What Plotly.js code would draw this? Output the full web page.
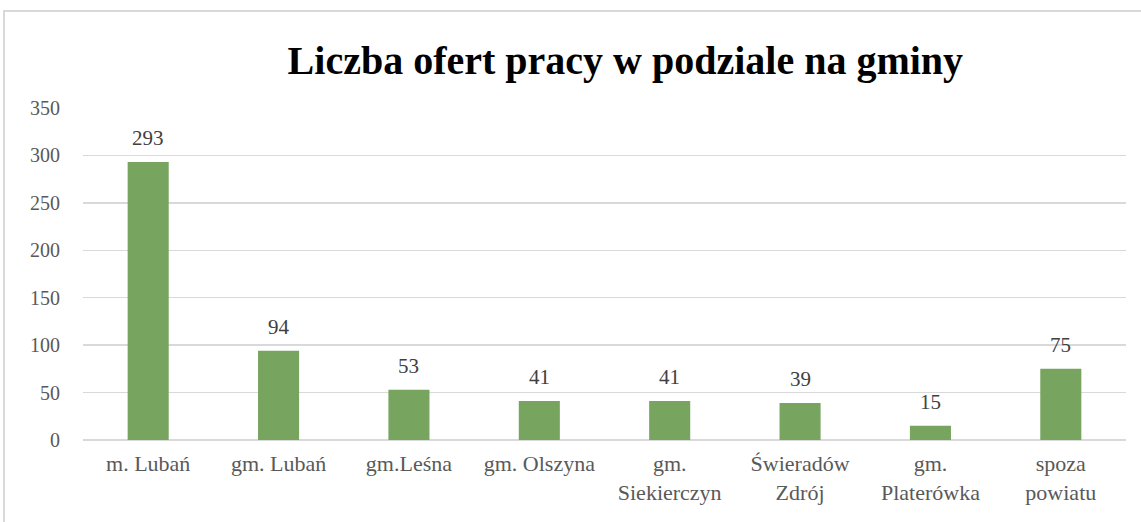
<!DOCTYPE html>
<html>
<head>
<meta charset="utf-8">
<script src="https://cdn.plot.ly/plotly-3.0.1.min.js"></script>
<style>
html,body{margin:0;padding:0;background:#fff;overflow:hidden;}
#chart{position:absolute;left:0;top:0;width:1141px;height:522px;}
#frame{position:absolute;left:3px;top:10px;width:1200px;height:600px;border:2px solid #d9d9d9;pointer-events:none;}
</style>
</head>
<body>
<div id="chart"></div>
<div id="frame"></div>
<script>
const categories = ["m. Lubań", "gm. Lubań", "gm.Leśna", "gm. Olszyna", "gm.<br>Siekierczyn", "Świeradów<br>Zdrój", "gm.<br>Platerówka", "spoza<br>powiatu"];
const offers = [293, 94, 53, 41, 41, 39, 15, 75];
const yTicks = [0, 50, 100, 150, 200, 250, 300, 350];

const font = "'Liberation Serif', 'DejaVu Serif', serif";

const labels = offers.map((v, i) => ({
  x: categories[i], y: v, xref: "x", yref: "y",
  text: String(v), showarrow: false,
  yanchor: "bottom", yshift: 10,
  font: {family: font, size: 21, color: "#404040"}
}));

Plotly.newPlot("chart", [{
  type: "bar",
  x: categories,
  y: offers,
  marker: {color: "#77a55f"},
  hoverinfo: "none"
}], {
  width: 1141,
  height: 522,
  margin: {l: 83, r: 15, t: 108, b: 82},
  paper_bgcolor: "#ffffff",
  plot_bgcolor: "#ffffff",
  bargap: 0.685,
  showlegend: false,
  font: {family: font},
  annotations: labels,
  title: {
    text: "<b>Liczba ofert pracy w podziale na gminy</b>",
    font: {family: font, size: 40, color: "#000000"},
    x: 0.52, xref: "paper", xanchor: "center",
    y: 0.885, yref: "container", yanchor: "middle"
  },
  xaxis: {
    type: "category",
    tickfont: {family: font, size: 22, color: "#595959"},
    showgrid: false,
    showline: false,
    ticks: "",
    ticklabelstandoff: 8
  },
  yaxis: {
    range: [0, 350],
    tickvals: yTicks,
    ticktext: yTicks.map(String),
    tickfont: {family: font, size: 20, color: "#595959"},
    gridcolor: "#d9d9d9",
    gridwidth: 1.5,
    zeroline: true,
    zerolinecolor: "#d9d9d9",
    zerolinewidth: 1.5,
    showline: false,
    ticks: "",
    ticklabelstandoff: 22
  }
}, {displayModeBar: false, staticPlot: true});
</script>
</body>
</html>
